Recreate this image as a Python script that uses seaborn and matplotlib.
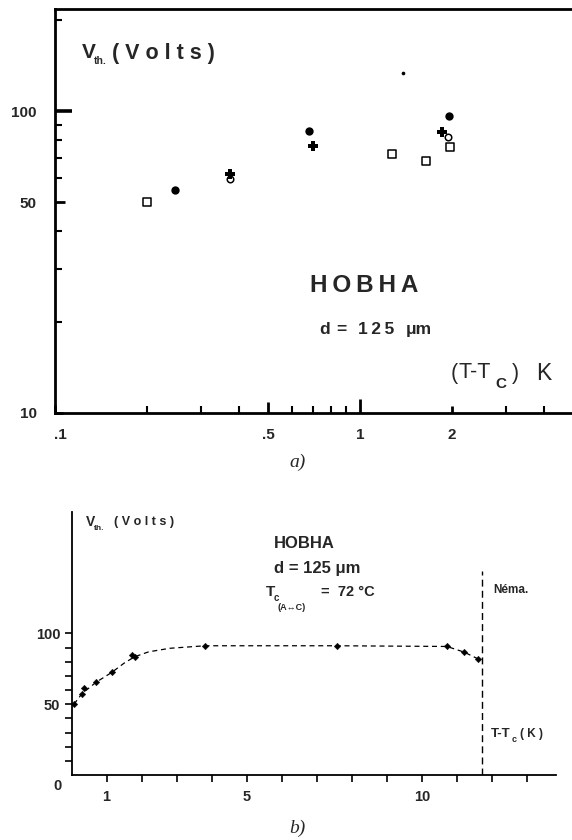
import matplotlib
matplotlib.use("Agg")
import matplotlib.pyplot as plt
from matplotlib.transforms import ScaledTranslation
import seaborn as sns

# ---------------- data: panel a) (log-log) ----------------
sq_x = [0.20, 1.27, 1.65, 1.97]
sq_y = [50.0, 72.0, 68.5, 76.2]
fc_x = [0.247, 0.682, 1.95]
fc_y = [54.9, 85.8, 96.5]
plus_x = [0.376, 0.701, 1.86]
plus_y = [61.9, 76.6, 85.4]
oc_x = [0.376, 1.94]
oc_y = [59.5, 82.2]
dot_x = [1.38]
dot_y = [134.0]

a_xticks = [0.1, 0.5, 1, 2]
a_xticklabels = [".1", ".5", "1", "2"]
a_xminor = [0.2, 0.3, 0.4, 0.6, 0.7, 0.8, 0.9, 3, 4]
a_yticks = [10, 50, 100]
a_yticklabels = ["10", "50", "100"]
a_yminor = [20, 30, 40, 60, 70, 80, 90, 200]

# ---------------- data: panel b) (linear) ----------------
b_x = [0.07, 0.29, 0.36, 0.70, 1.15, 1.72, 1.81, 3.81, 7.56, 10.71, 11.20, 11.59]
b_y = [50.0, 57.3, 61.4, 66.0, 72.7, 84.9, 83.3, 91.3, 91.3, 90.8, 86.8, 82.1]
curve_x = [0.07, 0.3, 0.7, 1.15, 1.5, 1.8, 2.2, 2.8, 3.81, 7.56, 10.71, 11.2, 11.59]
curve_y = [50.0, 57.5, 65.5, 72.5, 79.0, 83.5, 87.0, 89.5, 91.3, 91.3, 90.8, 86.8, 82.1]
nema_x = 11.70
nema_top = 144
b_xticks = list(range(1, 14))
b_xlabels = ["1" if t == 1 else "5" if t == 5 else "10" if t == 10 else "" for t in b_xticks]
b_yticks = list(range(10, 101, 10))
b_ylabels = ["50" if t == 50 else "100" if t == 100 else "" for t in b_yticks]

sns.set_style("ticks")
plt.rcParams['font.family'] = ['Liberation Sans', 'DejaVu Sans']

W, H = 572, 840
fig = plt.figure(figsize=(W / 100, H / 100), dpi=100)

def ftext(x, y, s, **kw):
    kw.setdefault('ha', 'left')
    kw.setdefault('va', 'center')
    fig.text(x / W, 1 - y / H, s, **kw)

# ================= panel a =================
ax1 = fig.add_axes([55 / W, 1 - 413 / H, (W - 55) / W, (413 - 9) / H])
ax1.set_xscale('log')
ax1.set_yscale('log')

sns.scatterplot(x=sq_x, y=sq_y, ax=ax1, marker='s', s=26, facecolor='white',
                edgecolor='black', linewidth=1.1, zorder=3)
sns.scatterplot(x=fc_x, y=fc_y, ax=ax1, marker='o', s=36, color='black',
                edgecolor='black', linewidth=0, zorder=3)
sns.scatterplot(x=oc_x, y=oc_y, ax=ax1, marker='o', s=22, facecolor='white',
                edgecolor='black', linewidth=1.1, zorder=3)
sns.scatterplot(x=plus_x, y=plus_y, ax=ax1, marker='P', s=42, color='black',
                edgecolor='black', linewidth=0, zorder=4)
sns.scatterplot(x=dot_x, y=dot_y, ax=ax1, marker='o', s=7, color='black',
                edgecolor='black', linewidth=0, zorder=3)

ax1.set_xlim(0.1, 4.95)
ax1.set_ylim(10, 218)
ax1.set_xticks(a_xticks)
ax1.set_xticklabels(a_xticklabels)
ax1.set_xticks(a_xminor, minor=True)
ax1.set_yticks(a_yticks)
ax1.set_yticklabels(a_yticklabels)
ax1.set_yticks(a_yminor, minor=True)
ax1.xaxis.set_minor_formatter(matplotlib.ticker.NullFormatter())
ax1.yaxis.set_minor_formatter(matplotlib.ticker.NullFormatter())
ax1.tick_params(which='both', direction='in', color='black', top=False, right=False)
ax1.tick_params(which='major', length=8, width=2.0, labelsize=11, pad=13)
ax1.tick_params(axis='x', which='major', pad=11)
ax1.tick_params(which='minor', length=5, width=1.5)
for lab in ax1.get_xticklabels() + ax1.get_yticklabels():
    lab.set_fontweight('bold')
first = ax1.get_xticklabels()[0]
first.set_transform(first.get_transform() + ScaledTranslation(4 / 72, 0, fig.dpi_scale_trans))
xmt = ax1.xaxis.get_major_ticks()
for t, L in zip(xmt, [6, 8, 10, 5]):
    t.tick1line.set_markersize(L)
ymt = ax1.yaxis.get_major_ticks()
for t, L in zip(ymt, [6, 7, 12]):
    t.tick1line.set_markersize(L)
ymt[2].tick1line.set_markeredgewidth(2.6)
for sp in ['left', 'bottom', 'top']:
    ax1.spines[sp].set_linewidth(2.0)
    ax1.spines[sp].set_color('black')
ax1.spines['right'].set_visible(False)
ax1.set_xlabel('')
ax1.set_ylabel('')

ftext(82, 53, "V", fontsize=15, fontweight='bold')
ftext(94, 61, "th.", fontsize=7.5, fontweight='bold')
ftext(112, 53, "( V o l t s )", fontsize=15.5, fontweight='bold')
ftext(310, 285, "H\u2009O\u2009B\u2009H\u2009A", fontsize=17.5, fontweight='bold')
ftext(319, 330, "d", fontsize=12.5, fontweight='bold')
ftext(336, 330, "=", fontsize=12.5, fontweight='bold')
ftext(358, 330, "1\u20092\u20095", fontsize=12.5, fontweight='bold')
ftext(406, 330, "μm", fontsize=12.5, fontweight='bold')
ftext(451, 373, "(", fontsize=15.5)
ftext(459, 373, "T-T", fontsize=15.5)
ftext(495, 384, "C", fontsize=11, fontweight='bold')
ftext(512, 373, ")", fontsize=15.5)
ftext(536, 373, "K", fontsize=16.5)
ftext(298, 462, "a)", fontsize=14, ha='center', style='italic',
      family=['Liberation Serif', 'DejaVu Serif'])

# ================= panel b =================
ax2 = fig.add_axes([71.5 / W, 1 - 775 / H, (556 - 71.5) / W, (775 - 511.7) / H])
sns.lineplot(x=curve_x, y=curve_y, ax=ax2, sort=False, color='black',
             linewidth=0.9, linestyle=(0, (4, 3)))
sns.scatterplot(x=b_x, y=b_y, ax=ax2, marker='D', s=11, color='black',
                edgecolor='black', linewidth=0.3, zorder=3)
ax2.vlines(nema_x, 0, nema_top, colors='black', linestyles=(0, (5, 3)), linewidth=1.0)

ax2.set_xlim(0, 13.82)
ax2.set_ylim(0, 186)
ax2.set_xticks(b_xticks)
ax2.set_xticklabels(b_xlabels)
ax2.set_yticks(b_yticks)
ax2.set_yticklabels(b_ylabels)
ax2.tick_params(which='both', direction='out', length=5, width=1.2, color='black',
                labelsize=10.5, top=False, right=False)
ax2.tick_params(axis='x', pad=6)
ax2.tick_params(axis='y', pad=3)
for lab in ax2.get_xticklabels() + ax2.get_yticklabels():
    lab.set_fontweight('bold')
for sp in ['left', 'bottom']:
    ax2.spines[sp].set_linewidth(1.3)
    ax2.spines[sp].set_color('black')
ax2.spines['top'].set_visible(False)
ax2.spines['right'].set_visible(False)
ax2.set_xlabel('')
ax2.set_ylabel('')

ftext(57, 786, "0", fontsize=10.5, fontweight='bold', ha='center')
ftext(86, 522, "V", fontsize=10, fontweight='bold')
ftext(94, 529, "th.", fontsize=6, fontweight='bold')
ftext(114, 522, "( V o l t s )", fontsize=9, fontweight='bold')
ftext(274, 543, "HOBHA", fontsize=12, fontweight='bold')
ftext(274, 568, "d = 125 μm", fontsize=12, fontweight='bold')
ftext(266, 592, "T", fontsize=11, fontweight='bold')
ftext(274, 598, "c", fontsize=7, fontweight='bold')
ftext(277, 607, "(A↔C)", fontsize=6.5, fontweight='bold')
ftext(321, 592, "=  72 °C", fontsize=10.5, fontweight='bold')
ftext(493, 590, "Néma.", fontsize=8.5, fontweight='bold')
ftext(491, 734, "T-T", fontsize=9.5, fontweight='bold')
ftext(512, 739, "c", fontsize=6.5, fontweight='bold')
ftext(520, 734, "( K )", fontsize=8.5, fontweight='bold')
ftext(297, 828, "b)", fontsize=14, ha='center', style='italic',
      family=['Liberation Serif', 'DejaVu Serif'])

fig.savefig("out.png", dpi=100, facecolor='white')
